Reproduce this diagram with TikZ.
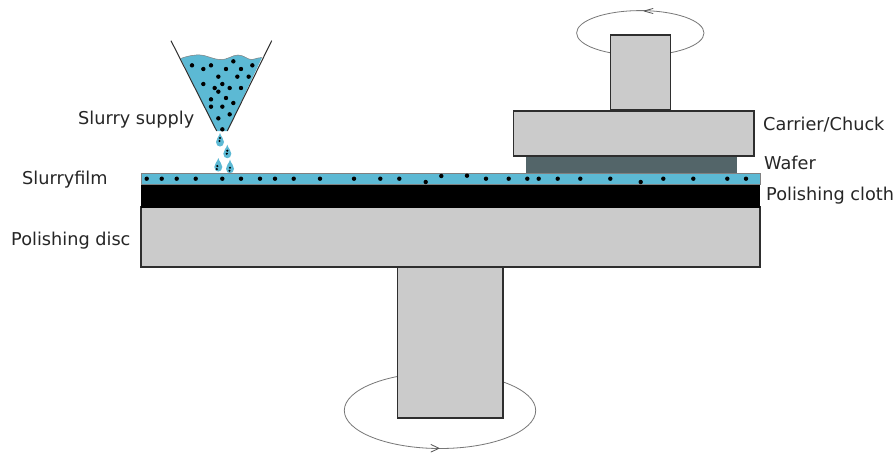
\documentclass[tikz,border=0pt]{standalone}
\usepackage{fontspec}
\setmainfont{DejaVu Sans}
\definecolor{slurry}{HTML}{5CB9D4}
\definecolor{part}{HTML}{CBCBCB}
\definecolor{waferc}{HTML}{536569}
\definecolor{edgec}{HTML}{2E2E2E}
\definecolor{orbit}{HTML}{777777}
\tikzset{
  partbox/.style={draw=edgec,line width=1.1pt,fill=part},
  lbl/.style={inner sep=0pt,anchor=west,font=\fontsize{17.7pt}{20pt}\selectfont,text=black!85},
  orbitline/.style={draw=orbit,line width=0.8pt},
  orbittip/.style={draw=orbit!70!black,line width=0.8pt,line cap=round,line join=round},
  grain/.style={fill=black,draw=none},
  funnelwall/.style={draw=edgec,line width=1pt},
}
\begin{document}
\begin{tikzpicture}[x=1pt,y=-1pt]
\useasboundingbox (0,0) rectangle (896,453);
\fill[white] (0,0) rectangle (896,453);
% rotation orbits, behind the shafts
\draw[orbitline] (640.3,33) ellipse [x radius=63.7,y radius=22.4];
\draw[orbittip] (653,8.5) -- (644,11) -- (653,13.5);
\draw[orbitline] (440,410.5) ellipse [x radius=95.7,y radius=38];
\draw[orbittip] (431,444.5) -- (439,448.3) -- (431,452);
% machine parts
\draw[partbox] (610.5,35) rectangle (670.5,110);
\draw[partbox] (513.5,111) rectangle (754,156);
\fill[waferc] (525.5,156.5) rectangle (737,174);
\draw[partbox] (141,207) rectangle (760,267);
\draw[partbox] (397.5,267) rectangle (503,418);
\fill[black] (141,184) rectangle (760,207.5);
\draw[draw=gray,line width=0.6pt,fill=slurry] (141,173.5) rectangle (760,184);
% slurry film grains
\foreach \x/\y in {146.7/178.7,161.7/178.7,176.7/178.7,195.7/178.7,222.3/178.7,241/178.7,260/178.7,275/178.7,293.7/178.7,320/178.7,354/178.7,380.3/178.7,399.3/178.7,425.7/182,441.3/176,467/175.7,486/178.7,508.7/178.7,527.3/178.7,538.7/178.7,557.7/178.7,580.3/178.7,610.3/178.7,640.7/182,663.3/178.7,693.3/178.7,727.3/178.7,746/178.7}
  \fill[grain] (\x,\y) circle (2.2);
% funnel
\fill[slurry] (180.7,58.5) .. controls (187,56) and (195,54.5) .. (201,55)
  .. controls (207,55.5) and (212,59) .. (220,59.5)
  .. controls (228,60) and (232,55) .. (238,55)
  .. controls (244,55) and (248,60) .. (252,59.5)
  .. controls (256,59) and (259,57) .. (262,57.5)
  -- (227.3,131) -- (216.7,131) -- cycle;
\draw[draw=gray,line width=0.5pt] (180.7,58.5) .. controls (187,56) and (195,54.5) .. (201,55)
  .. controls (207,55.5) and (212,59) .. (220,59.5)
  .. controls (228,60) and (232,55) .. (238,55)
  .. controls (244,55) and (248,60) .. (252,59.5)
  .. controls (256,59) and (259,57) .. (262,57.5);
\draw[funnelwall] (171,40.7) -- (216.7,131);
\draw[funnelwall] (271.7,40.7) -- (227.3,131);
\foreach \x/\y in {126/106,160/117,183/106,228/117,250/94,273/117,307/106,205/140,262/140,296/140,160/162,217/162,194/174,205/185,239/174,273/174,183/208,228/204,250/219,183/230,217/230,239/253,205/265,217/298}
  \fill[grain] ({150+\x/3},{30+\y/3}) circle (2.2);
% drops
\foreach \x/\y/\a/\b in {220/140/0/-2,227.3/151.7/0/-1,218.3/165/-1/1,230/166.7/0/1}{
  \begin{scope}[shift={(\x,\y)}]
    \fill[slurry] (0,-7) .. controls (1,-3) and (4,-1.5) .. (4,2)
      .. controls (4,5) and (2,6.5) .. (0,6.5)
      .. controls (-2,6.5) and (-4,5) .. (-4,2)
      .. controls (-4,-1.5) and (-1,-3) .. (0,-7) -- cycle;
    \fill[grain] (\a,\b) circle (1.2);
    \fill[grain] (\a-0.5,\b+3) circle (1.2);
  \end{scope}
}
% labels
\node[lbl] (lsupply) at (78,119.5) {Slurry supply};
\node[lbl] (lfilm) at (22,179.5) {Slurryfilm};
\node[lbl] (ldisc) at (11,240.5) {Polishing disc};
\node[lbl] (lcarrier) at (763,125) {Carrier/Chuck};
\node[lbl] (lwafer) at (764,162.5) {Wafer};
\node[lbl] (lcloth) at (766,195.5) {Polishing cloth};
\end{tikzpicture}
\end{document}
